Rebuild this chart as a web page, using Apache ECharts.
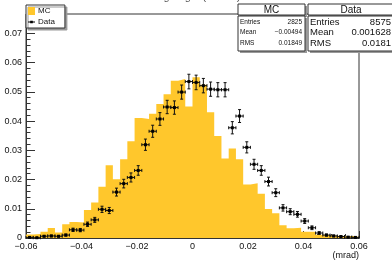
<html>
<head>
<meta charset="UTF-8"/>
<title>Scattering angle</title>
<script src="https://cdn.jsdelivr.net/npm/echarts@6/dist/echarts.min.js"></script>
</head>
<body style="margin:0">
<div id="chart" style="width:392px;height:260px;"></div>
<script>
// histogram range and binning
var xMin = -0.06, xMax = 0.06, nBins = 46;
var yMax = 0.0766;

// MC histogram (normalised), one value per bin
var mcValues = [0.0012, 0.0014, 0.0021, 0.0034, 0.0019, 0.0047, 0.0055, 0.0053, 0.0096, 0.0121,
    0.0175, 0.0249, 0.0201, 0.0269, 0.0331, 0.0410, 0.0407, 0.0425, 0.0458, 0.0492,
    0.0538, 0.0544, 0.0450, 0.0550, 0.0524, 0.0430, 0.0349, 0.0272, 0.0306, 0.0269,
    0.0183, 0.0187, 0.0151, 0.0099, 0.0085, 0.0044, 0.0033, 0.0035, 0.0021, 0.0021,
    0.0011, 0.0010, 0.0008, 0.0007, 0.0007, 0.0006];

// Data histogram (normalised), one value per bin
var dataValues = [0.0002, 0.0001, 0.0006, 0.0007, 0.0006, 0.0010, 0.0028, 0.0027, 0.0047, 0.0062,
    0.0098, 0.0094, 0.0157, 0.0186, 0.0207, 0.0231, 0.0319, 0.0365, 0.0407, 0.0448,
    0.0446, 0.0499, 0.0535, 0.0532, 0.0521, 0.0509, 0.0507, 0.0507, 0.0377, 0.0417,
    0.0310, 0.0252, 0.0231, 0.0193, 0.0155, 0.0103, 0.0090, 0.0081, 0.0058, 0.0035,
    0.0017, 0.0010, 0.0007, 0.0005, 0.0003, 0.0002];

// stat boxes
var statNames = ['Entries', 'Mean', 'RMS'];
var mcStats = ['2825', '\u22120.00494', '0.01849'];
var dataStats = ['8575', '0.001628', '0.0181'];
var dataEntries = 8575;
var titleText = 'Scattering angle (x view)';

var binW = (xMax - xMin) / nBins;
var mcStep = [];
for (var i = 0; i <= nBins; i++) {
    mcStep.push([xMin + i * binW, mcValues[Math.min(i, nBins - 1)]]);
}
var dataPts = dataValues.map(function (v, i) {
    // error on a normalised count: sqrt(n)/N
    return [xMin + (i + 0.5) * binW, v, Math.sqrt(v / dataEntries)];
});

var font = 'Liberation Sans, Arial, sans-serif';
var myChart = echarts.init(document.getElementById('chart'));

function statBox(x, w, title, vals, fs, tfs) {
    var els = [
        {type: 'rect', shape: {x: x + 2, y: 6, width: w, height: 11}, style: {fill: '#999'}},
        {type: 'rect', shape: {x: x + 2, y: 18, width: w, height: 35}, style: {fill: '#999'}},
        {type: 'rect', shape: {x: x, y: 4, width: w, height: 11}, style: {fill: '#fff', stroke: '#333', lineWidth: 1}},
        {type: 'rect', shape: {x: x, y: 16, width: w, height: 35}, style: {fill: '#fff', stroke: '#333', lineWidth: 1}},
        {type: 'text', x: x + w / 2, y: 10, style: {text: title, font: tfs + 'px ' + font, fill: '#111', align: 'center', verticalAlign: 'middle'}}
    ];
    statNames.forEach(function (n, k) {
        var yy = 22 + k * 10.7;
        els.push({type: 'text', x: x + 2, y: yy, style: {text: n, font: fs + 'px ' + font, fill: '#111', verticalAlign: 'middle'}});
        els.push({type: 'text', x: x + w - 3, y: yy, style: {text: vals[k], font: fs + 'px ' + font, fill: '#111', align: 'right', verticalAlign: 'middle'}});
    });
    return {type: 'group', z: 100, children: els};
}

var option = {
    animation: false,
    legend: {
        orient: 'vertical',
        left: 26, top: 5,
        padding: [2, 10, 2, 2],
        itemWidth: 7, itemHeight: 8, itemGap: 3,
        backgroundColor: '#fff',
        borderColor: '#333', borderWidth: 1,
        shadowColor: '#999', shadowOffsetX: 2, shadowOffsetY: 2,
        textStyle: {fontSize: 8, color: '#111', fontFamily: font, padding: [0, 0, 0, -2]},
        data: [
            {name: 'MC', icon: 'rect'},
            {name: 'Data', icon: 'path://M0,3.5h8v1h-8z M2.5,2.5h3v3h-3z'}
        ]
    },
    grid: {left: 26, right: 33, top: 14, bottom: 21, show: true, borderColor: '#333', borderWidth: 1},
    xAxis: {
        type: 'value', min: xMin, max: xMax, interval: 0.02,
        name: '(mrad)', nameLocation: 'end', nameGap: 0,
        nameTextStyle: {fontSize: 9, color: '#111', fontFamily: font, align: 'right', verticalAlign: 'top', padding: [13, 0, 0, 0]},
        axisLine: {onZero: false, lineStyle: {color: '#333'}},
        axisTick: {inside: true, length: 7, lineStyle: {color: '#333'}},
        minorTick: {show: true, splitNumber: 4, length: 4, lineStyle: {color: '#333'}},
        splitLine: {show: false},
        axisLabel: {
            fontSize: 9, color: '#111', fontFamily: font, margin: 4,
            formatter: function (v) { return (Math.abs(v) < 1e-9 ? '0' : (+v.toFixed(2)).toString()).replace('-', '\u2212'); }
        }
    },
    yAxis: {
        type: 'value', min: 0, max: yMax, interval: 0.01,
        axisLine: {show: true, onZero: false, lineStyle: {color: '#333'}},
        axisTick: {show: true, inside: true, length: 9, lineStyle: {color: '#333'}},
        minorTick: {show: true, splitNumber: 5, length: 4.5, lineStyle: {color: '#333'}},
        splitLine: {show: false},
        axisLabel: {
            fontSize: 9, color: '#111', fontFamily: font, margin: 4, showMaxLabel: false,
            formatter: function (v) { return v === 0 ? '0' : (+v.toFixed(2)).toString(); }
        }
    },
    series: [
        {
            name: 'MC', type: 'line', step: 'end', symbol: 'none',
            color: '#ffc72c',
            lineStyle: {width: 0},
            areaStyle: {color: '#ffc72c', opacity: 1},
            data: mcStep
        },
        {
            name: 'Data', type: 'custom', color: '#000', z: 5,
            encode: {x: 0, y: 1},
            renderItem: function (params, api) {
                var x = api.value(0), y = api.value(1), e = api.value(2);
                var c = api.coord([x, y]);
                var l = api.coord([x - binW / 2, y]);
                var r = api.coord([x + binW / 2, y]);
                var t = api.coord([x, y + e]);
                var b = api.coord([x, Math.max(0, y - e)]);
                var st = {stroke: '#111', lineWidth: 1};
                return {
                    type: 'group',
                    children: [
                        {type: 'line', shape: {x1: l[0], y1: c[1], x2: r[0], y2: c[1]}, style: st},
                        {type: 'line', shape: {x1: l[0], y1: c[1] - 1.5, x2: l[0], y2: c[1] + 1.5}, style: st},
                        {type: 'line', shape: {x1: r[0], y1: c[1] - 1.5, x2: r[0], y2: c[1] + 1.5}, style: st},
                        {type: 'line', shape: {x1: c[0], y1: t[1], x2: c[0], y2: b[1]}, style: st},
                        {type: 'line', shape: {x1: c[0] - 1.5, y1: t[1], x2: c[0] + 1.5, y2: t[1]}, style: st},
                        {type: 'line', shape: {x1: c[0] - 1.5, y1: b[1], x2: c[0] + 1.5, y2: b[1]}, style: st},
                        {type: 'rect', shape: {x: c[0] - 1.5, y: c[1] - 1.5, width: 3, height: 3}, style: {fill: '#000'}}
                    ]
                };
            },
            data: dataPts
        }
    ],
    graphic: [
        {type: 'text', x: 120, y: 2, z: 1,
         style: {text: titleText, font: '11px ' + font, fill: '#555', verticalAlign: 'bottom'}},
        statBox(238, 67, 'MC', mcStats, 6.5, 10),
        statBox(308, 86, 'Data', dataStats, 9.5, 10)
    ]
};
myChart.setOption(option);
</script>
</body>
</html>
